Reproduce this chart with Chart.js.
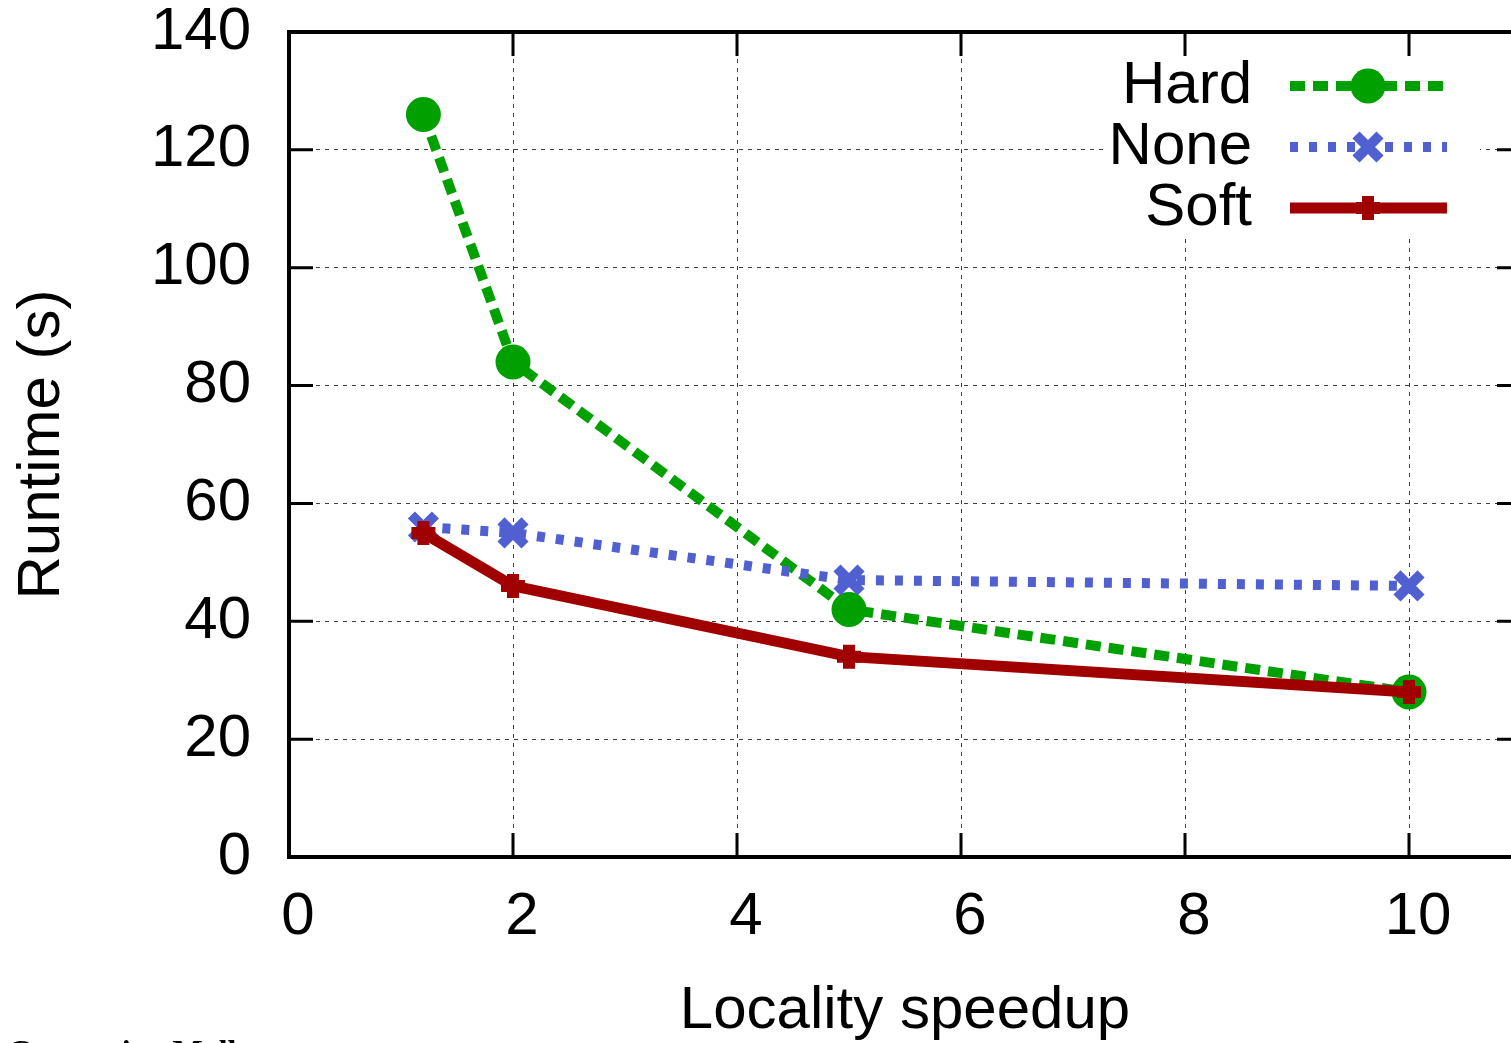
<!DOCTYPE html>
<html>
<head>
<meta charset="utf-8">
<title>Runtime vs locality speedup</title>
<script src="https://cdn.jsdelivr.net/npm/chart.js@4.4.0/dist/chart.umd.min.js"></script>
<style>
    html, body { margin: 0; padding: 0; background: #fff; overflow: hidden; }
    #wrap { position: relative; width: 1511px; height: 1043px; overflow: hidden; }
    #chart { position: absolute; left: 0; top: 0; }
    #caption {
        position: absolute; left: 8px; top: 1033px;
        font: bold 32px "Liberation Serif", serif; color: #000; white-space: nowrap;
    }
</style>
</head>
<body>
<div id="wrap">
    <canvas id="chart" width="1620" height="1043"></canvas>
    <div id="caption">Comparing Moll</div>
</div>
<script>
// Data
const speedups = [1.2, 2, 5, 10];
const hardRuntime = [126, 84, 42, 28];
const noneRuntime = [56, 55, 47, 46];
const softRuntime = [55, 46, 34, 28];

const seriesNames = ['Hard', 'None', 'Soft'];
const xTickValues = [0, 2, 4, 6, 8, 10];
const yTickValues = [0, 20, 40, 60, 80, 100, 120, 140];

const FONT = '"Liberation Sans", Arial, sans-serif';

const toPoints = (ys) => speedups.map((x, i) => ({ x: x, y: ys[i] }));

// gnuplot style frame with inward ticks on all four sides
const framePlugin = {
    id: 'frame',
    afterDatasetsDraw(chart) {
        const { ctx, chartArea: a, scales } = chart;
        const tick = 24;
        ctx.save();
        ctx.strokeStyle = '#000';
        ctx.setLineDash([]);
        ctx.lineWidth = 3;
        ctx.beginPath();
        xTickValues.forEach(v => {
            const px = scales.x.getPixelForValue(v);
            ctx.moveTo(px, a.bottom); ctx.lineTo(px, a.bottom - tick);
            ctx.moveTo(px, a.top); ctx.lineTo(px, a.top + tick);
        });
        yTickValues.forEach(v => {
            const py = scales.y.getPixelForValue(v);
            ctx.moveTo(a.left, py); ctx.lineTo(a.left + tick, py);
            ctx.moveTo(a.right, py); ctx.lineTo(a.right - tick, py);
        });
        ctx.stroke();
        ctx.lineWidth = 4;
        ctx.strokeRect(a.left, a.top, a.right - a.left, a.bottom - a.top);
        ctx.restore();
    }
};

// legend: text on the left, line sample with marker on the right
const keyPlugin = {
    id: 'key',
    afterDraw(chart) {
        const { ctx } = chart;
        const rows = [86, 147, 208];
        ctx.save();
        ctx.fillStyle = '#fff';
        ctx.fillRect(1105, 57, 375, 180);
        chart.data.datasets.forEach((ds, i) => {
            const y = rows[i];
            ctx.fillStyle = '#000';
            ctx.font = '60px ' + FONT;
            ctx.textAlign = 'right';
            ctx.textBaseline = 'middle';
            ctx.fillText(ds.label, 1252, y);

            ctx.strokeStyle = ds.borderColor;
            ctx.lineWidth = ds.borderWidth;
            ctx.setLineDash(ds.borderDash || []);
            ctx.beginPath();
            ctx.moveTo(1290, y);
            ctx.lineTo(1447, y);
            ctx.stroke();

            ctx.setLineDash([]);
            ctx.fillStyle = ds.pointBackgroundColor;
            ctx.strokeStyle = ds.borderColor;
            ctx.lineWidth = ds.pointBorderWidth;
            Chart.helpers.drawPoint(ctx, {
                pointStyle: ds.pointStyle,
                radius: ds.pointRadius,
                borderWidth: ds.pointBorderWidth,
                rotation: 0
            }, 1368, y);
        });
        ctx.restore();
    }
};

new Chart(document.getElementById('chart'), {
    type: 'line',
    data: {
        datasets: [{
            label: seriesNames[0],
            data: toPoints(hardRuntime),
            borderColor: '#00a000',
            backgroundColor: '#00a000',
            pointBackgroundColor: '#00a000',
            borderWidth: 10,
            borderDash: [15, 8],
            pointStyle: 'circle',
            pointRadius: 17.5,
            pointBorderWidth: 0,
            order: 3
        }, {
            label: seriesNames[1],
            data: toPoints(noneRuntime),
            borderColor: '#5060d0',
            backgroundColor: '#5060d0',
            pointBackgroundColor: '#5060d0',
            borderWidth: 10,
            borderDash: [8, 11],
            pointStyle: 'crossRot',
            pointRadius: 17,
            pointBorderWidth: 10,
            order: 2
        }, {
            label: seriesNames[2],
            data: toPoints(softRuntime),
            borderColor: '#a00000',
            backgroundColor: '#a00000',
            pointBackgroundColor: '#a00000',
            borderWidth: 11,
            pointStyle: 'cross',
            pointRadius: 12,
            pointBorderWidth: 12,
            order: 1
        }]
    },
    options: {
        responsive: false,
        animation: false,
        events: [],
        layout: { padding: { top: 32, right: 99, left: 0, bottom: 0 } },
        plugins: {
            legend: { display: false },
            tooltip: { enabled: false }
        },
        scales: {
            x: {
                type: 'linear',
                min: 0,
                max: 11,
                afterBuildTicks: (scale) => { scale.ticks = xTickValues.map(v => ({ value: v })); },
                afterFit: (scale) => {
                    scale.height = 186;
                    scale.paddingLeft = 0;
                    scale.paddingRight = 0;
                },
                grid: { color: 'rgba(0,0,0,0.75)', lineWidth: 1, drawTicks: false },
                border: { display: false, dash: [4, 5] },
                ticks: {
                    color: '#000', padding: 24, labelOffset: 9,
                    font: { family: FONT, size: 60 }, maxRotation: 0
                },
                title: {
                    display: true,
                    text: 'Locality speedup',
                    color: '#000',
                    font: { family: FONT, size: 60 },
                    padding: { top: 0, bottom: -4 }
                }
            },
            y: {
                type: 'linear',
                min: 0,
                max: 140,
                afterBuildTicks: (scale) => { scale.ticks = yTickValues.map(v => ({ value: v })); },
                afterFit: (scale) => {
                    scale.width = 289;
                    scale.paddingTop = 0;
                    scale.paddingBottom = 0;
                },
                grid: { color: 'rgba(0,0,0,0.75)', lineWidth: 1, drawTicks: false },
                border: { display: false, dash: [4, 5] },
                ticks: { color: '#000', padding: 38, font: { family: FONT, size: 60 } },
                title: {
                    display: true,
                    text: 'Runtime (s)',
                    color: '#000',
                    font: { family: FONT, size: 60 },
                    padding: { top: 6, bottom: 0 }
                }
            }
        }
    },
    plugins: [framePlugin, keyPlugin]
});
</script>
</body>
</html>
